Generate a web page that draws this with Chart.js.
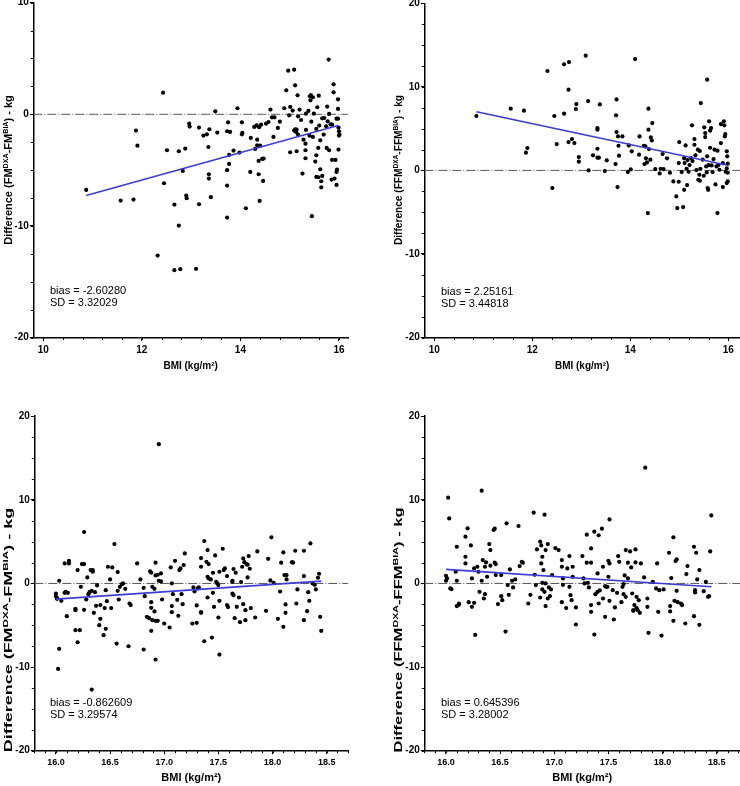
<!DOCTYPE html>
<html>
<head>
<meta charset="utf-8">
<script src="https://cdn.jsdelivr.net/npm/chart.js@4.4.0/dist/chart.umd.min.js"></script>
<style>
  body { margin: 0; background: #fff; }
  #wrap { position: relative; width: 740px; height: 786px; overflow: hidden; font-family: 'Liberation Sans', Arial, sans-serif; color: #000; }
  canvas { position: absolute; }
  .ytitle { position: absolute; white-space: nowrap; font-weight: bold; font-size: 11px; line-height: 13px; }
  .ytitle sup { font-size: 0.65em; vertical-align: 0.55em; line-height: 0; }
  .note { position: absolute; font-size: 11px; line-height: 12px; white-space: nowrap; }
</style>
</head>
<body>
<div id="wrap">
  <canvas id="c1" width="370" height="390" style="left:0;top:0"></canvas>
  <canvas id="c2" width="370" height="390" style="left:370px;top:0"></canvas>
  <canvas id="c3" width="370" height="396" style="left:0;top:390px"></canvas>
  <canvas id="c4" width="370" height="396" style="left:370px;top:390px"></canvas>

  <div class="ytitle" data-len="150" style="left:7.5px;top:170px">Difference (FM<sup>DXA</sup>-FM<sup>BIA</sup>) - kg</div>
  <div class="ytitle" data-len="150" style="left:398px;top:170px">Difference (FFM<sup>DXA</sup>-FFM<sup>BIA</sup>) - kg</div>
  <div class="ytitle" data-len="245" style="left:7.5px;top:630px">Difference (FM<sup>DXA</sup>-FM<sup>BIA</sup>) - kg</div>
  <div class="ytitle" data-len="245" style="left:398px;top:630px">Difference (FFM<sup>DXA</sup>-FFM<sup>BIA</sup>) - kg</div>

  <div class="note" style="left:50px;top:284px">bias = -2.60280<br>SD = 3.32029</div>
  <div class="note" style="left:441px;top:285px">bias = 2.25161<br>SD = 3.44818</div>
  <div class="note" style="left:50px;top:696px">bias = -0.862609<br>SD = 3.29574</div>
  <div class="note" style="left:441px;top:696px">bias = 0.645396<br>SD = 3.28002</div>
</div>
<script>
// BMI < 16, fat mass difference (BMI, kg)
const fmLow = [[10.87,-6.78],[11.57,-7.73],[11.83,-7.64],[11.88,-1.46],[11.91,-2.81],[12.43,1.94],[12.51,-3.22],[12.45,-6.18],[12.32,-12.66],[12.66,-8.09],[12.75,-3.31],[12.75,-9.97],[12.66,-13.97],[12.78,-13.88],[12.83,-5.07],[12.88,-3.07],[12.90,-7.28],[12.91,-7.52],[12.96,-0.84],[12.97,-1.10],[13.10,-13.85],[13.16,-1.19],[13.16,-8.06],[13.25,-1.91],[13.32,-1.79],[13.35,-2.93],[13.36,-5.37],[13.36,-5.76],[13.37,-1.34],[13.40,-7.43],[13.49,0.27],[13.53,-1.64],[13.73,-1.52],[13.75,-0.72],[13.79,-1.58],[13.73,-5.01],[13.73,-6.39],[13.73,-9.25],[13.77,-4.45],[13.77,-3.64],[13.86,-3.25],[13.94,0.54],[13.98,-3.43],[14.03,-1.79],[14.03,-0.72],[14.04,-1.67],[14.11,-8.42],[14.20,-5.16],[14.21,-2.12],[14.28,-1.13],[14.30,-3.10],[14.33,-0.99],[14.34,-2.27],[14.34,-2.78],[14.37,-5.37],[14.37,-4.18],[14.39,-7.76],[14.38,-1.16],[14.40,-2.81],[14.42,-0.93],[14.44,-4.00],[14.46,-5.97],[14.47,-3.97],[14.52,-0.84],[14.57,-0.69],[14.61,0.42],[14.64,-0.27],[14.69,-0.27],[14.67,-2.03],[14.76,-1.22],[14.80,-0.66],[14.89,0.54],[14.93,2.15],[14.97,3.91],[14.99,-0.09],[15.01,0.66],[15.01,-3.40],[15.06,0.33],[15.09,4.00],[15.11,2.60],[15.09,-1.46],[15.11,-1.34],[15.13,-1.58],[15.14,-1.37],[15.14,-3.31],[15.16,1.70],[15.17,-0.18],[15.17,-1.82],[15.20,0.42],[15.23,-0.51],[15.26,-5.31],[15.28,-2.27],[15.32,-2.63],[15.32,-3.22],[15.32,-3.94],[15.33,-1.40],[15.33,0.06],[15.38,0.30],[15.40,-1.91],[15.41,1.61],[15.42,1.25],[15.43,1.73],[15.44,-0.66],[15.45,-9.13],[15.47,1.52],[15.47,-2.03],[15.49,0.06],[15.52,-4.24],[15.54,-1.31],[15.54,-3.67],[15.54,-5.61],[15.56,0.63],[15.58,-5.64],[15.58,-3.01],[15.59,1.67],[15.60,-1.01],[15.62,-4.93],[15.62,-2.33],[15.64,-6.54],[15.64,-6.00],[15.66,-0.36],[15.66,-5.52],[15.69,-1.82],[15.70,-0.33],[15.74,-1.07],[15.75,-3.01],[15.76,0.69],[15.77,-0.63],[15.79,4.90],[15.80,0.03],[15.80,-3.22],[15.83,-0.90],[15.85,-5.85],[15.86,-0.93],[15.86,-4.09],[15.89,2.69],[15.89,1.97],[15.91,-5.76],[15.93,-4.09],[15.95,-0.39],[15.95,-5.16],[15.95,-6.33],[15.96,-4.96],[15.98,1.34],[15.98,0.48],[15.98,-0.39],[15.99,-3.16],[15.99,-1.19],[16.00,-1.52],[16.01,-1.82],[16.00,-1.91]];
// BMI < 16, fat-free mass difference
const ffmLow = [[10.86,6.51],[11.56,7.39],[11.83,7.15],[11.87,2.12],[11.90,2.67],[12.31,11.9],[12.45,6.51],[12.41,-2.12],[12.50,3.15],[12.65,12.7],[12.65,6.79],[12.75,12.97],[12.74,9.66],[12.74,3.39],[12.81,3.75],[12.86,3.27],[12.89,7.35],[12.90,7.94],[12.95,1.60],[12.95,1.04],[13.09,13.73],[13.14,8.30],[13.15,0.0],[13.24,1.80],[13.33,5.07],[13.33,4.87],[13.33,2.59],[13.33,1.52],[13.36,1.52],[13.38,7.90],[13.48,-0.08],[13.52,1.20],[13.70,0.76],[13.72,8.50],[13.71,6.59],[13.72,4.59],[13.74,-2.00],[13.75,4.07],[13.76,2.95],[13.77,1.76],[13.84,4.07],[14.10,13.33],[13.97,2.99],[13.95,-0.20],[14.01,0.12],[14.03,2.28],[14.19,4.07],[14.18,1.88],[14.28,2.95],[14.29,0.76],[14.31,2.87],[14.32,1.44],[14.34,0.96],[14.36,-5.11],[14.37,7.39],[14.37,4.87],[14.38,2.55],[14.41,1.28],[14.42,3.95],[14.44,3.59],[14.45,5.67],[14.51,0.16],[14.60,-0.36],[14.62,0.20],[14.66,1.96],[14.68,0.16],[14.75,1.44],[14.81,-0.28],[14.88,-1.32],[14.94,-3.11],[14.96,-4.51],[14.99,-1.36],[15.00,3.39],[14.99,0.88],[15.05,-0.20],[15.08,-4.39],[15.10,-2.32],[15.10,1.44],[15.11,0.88],[15.13,2.99],[15.15,0.20],[15.16,-1.76],[15.17,1.24],[15.19,-0.16],[15.21,0.64],[15.24,1.48],[15.26,5.39],[15.27,1.12],[15.31,3.75],[15.31,3.07],[15.33,1.80],[15.35,0.04],[15.38,2.48],[15.39,-1.12],[15.41,-0.52],[15.42,-1.24],[15.42,2.32],[15.43,0.20],[15.44,8.06],[15.48,1.28],[15.50,-0.64],[15.51,5.15],[15.53,3.99],[15.53,4.47],[15.55,0.48],[15.56,-0.24],[15.57,1.68],[15.57,10.86],[15.58,-2.12],[15.59,-2.32],[15.60,0.64],[15.61,5.87],[15.63,2.71],[15.63,4.75],[15.65,5.07],[15.66,0.60],[15.68,-0.20],[15.70,1.36],[15.72,2.48],[15.74,-1.68],[15.76,0.48],[15.78,-5.11],[15.78,2.36],[15.80,0.64],[15.82,0.08],[15.85,5.55],[15.85,3.27],[15.89,-2.00],[15.89,0.88],[15.91,5.87],[15.92,5.39],[15.93,4.07],[15.94,4.35],[15.95,-0.16],[15.97,-1.52],[15.97,2.28],[15.97,0.24],[15.98,1.68],[15.99,-1.32],[15.99,0.80],[15.99,-0.28]];
// BMI 16-18.5, fat mass difference
const fmMid = [[16.00,-1.20],[16.00,-1.52],[16.01,-1.76],[16.01,-1.84],[16.02,-10.22],[16.03,0.32],[16.03,-7.82],[16.05,-2.08],[16.08,-1.12],[16.08,2.40],[16.09,-1.00],[16.10,-3.91],[16.11,-1.12],[16.12,2.71],[16.12,2.40],[16.18,-3.03],[16.18,-3.19],[16.18,-5.59],[16.20,-7.03],[16.20,1.60],[16.22,-5.59],[16.23,-0.40],[16.24,2.32],[16.26,2.32],[16.26,6.15],[16.26,-3.15],[16.28,-1.92],[16.29,0.72],[16.30,-1.28],[16.31,-1.04],[16.32,1.60],[16.33,-0.88],[16.34,1.60],[16.34,1.40],[16.35,-3.51],[16.36,-1.04],[16.33,-12.69],[16.37,-2.67],[16.38,-0.24],[16.40,-4.99],[16.41,-4.23],[16.41,-2.59],[16.44,-6.19],[16.45,-2.95],[16.46,-0.80],[16.46,-5.43],[16.47,-2.12],[16.48,2.00],[16.50,0.48],[16.52,1.92],[16.51,-2.95],[16.54,4.71],[16.56,-7.19],[16.57,1.36],[16.57,-0.88],[16.58,-1.92],[16.59,-0.40],[16.61,-0.08],[16.62,0.0],[16.64,-0.64],[16.67,-7.51],[16.68,-2.40],[16.69,-2.59],[16.75,2.40],[16.78,0.48],[16.81,-7.90],[16.81,-0.52],[16.82,-1.52],[16.84,-3.99],[16.86,-4.15],[16.87,1.44],[16.88,-2.24],[16.88,-2.91],[16.88,-5.67],[16.88,1.28],[16.89,-4.39],[16.89,-0.40],[16.91,-0.64],[16.91,-3.35],[16.92,-9.10],[16.92,2.48],[16.92,0.96],[16.92,-4.47],[16.94,-4.47],[16.94,1.04],[16.95,16.65],[16.95,0.32],[16.97,1.20],[16.97,0.24],[16.98,-1.92],[17.00,-4.79],[17.05,-5.27],[17.06,1.92],[17.07,-2.71],[17.07,-3.43],[17.07,0.0],[17.08,-1.28],[17.10,2.71],[17.12,-1.96],[17.13,-3.87],[17.14,1.60],[17.15,1.80],[17.16,-1.28],[17.17,-2.48],[17.18,2.20],[17.19,3.59],[17.26,-4.79],[17.27,-0.48],[17.28,-0.96],[17.30,-2.63],[17.30,-4.71],[17.31,-0.60],[17.32,-0.48],[17.34,3.03],[17.34,2.00],[17.34,-3.51],[17.34,-3.43],[17.37,5.07],[17.37,-6.91],[17.39,2.59],[17.40,0.80],[17.40,-1.68],[17.40,3.99],[17.41,2.32],[17.41,0.60],[17.43,0.48],[17.44,-6.47],[17.45,1.28],[17.45,-1.12],[17.46,-2.79],[17.47,3.35],[17.48,0.20],[17.49,0.0],[17.50,-0.20],[17.50,-4.07],[17.51,-8.50],[17.51,1.40],[17.51,-2.08],[17.54,4.15],[17.55,1.60],[17.56,1.80],[17.58,0.88],[17.58,-2.59],[17.59,-2.83],[17.63,0.32],[17.63,0.20],[17.63,-1.20],[17.64,1.72],[17.64,-1.40],[17.65,-4.15],[17.66,1.28],[17.67,-2.79],[17.69,-1.68],[17.70,-4.63],[17.71,0.16],[17.72,2.00],[17.73,2.99],[17.73,-2.48],[17.74,2.55],[17.75,-4.39],[17.75,-3.19],[17.76,2.32],[17.77,2.24],[17.77,0.72],[17.78,3.27],[17.79,1.76],[17.80,-2.95],[17.84,-4.07],[17.86,3.83],[17.94,-3.27],[17.96,2.95],[17.98,0.36],[17.99,5.51],[18.01,0.08],[18.05,-4.23],[18.07,-0.96],[18.08,2.48],[18.10,-5.19],[18.10,3.71],[18.11,1.00],[18.12,-2.51],[18.12,-3.51],[18.13,1.00],[18.13,0.48],[18.18,2.55],[18.19,2.48],[18.21,3.91],[18.22,-2.40],[18.23,-0.72],[18.29,3.91],[18.29,0.88],[18.29,-4.39],[18.32,-3.31],[18.33,-1.04],[18.34,-2.08],[18.35,4.79],[18.37,0.0],[18.39,-0.16],[18.40,-0.72],[18.42,0.68],[18.43,1.16],[18.44,-3.99],[18.45,-5.67]];
// BMI 16-18.5, fat-free mass difference
const ffmMid = [[16.00,0.92],[16.00,0.32],[16.01,0.60],[16.02,10.26],[16.03,7.78],[16.04,-0.60],[16.05,-0.68],[16.09,1.40],[16.10,4.39],[16.10,0.32],[16.10,-2.71],[16.12,-2.55],[16.12,-2.40],[16.18,2.40],[16.18,3.19],[16.18,5.59],[16.20,6.59],[16.21,-2.24],[16.23,4.55],[16.24,0.60],[16.24,-2.79],[16.26,-2.32],[16.27,-6.15],[16.26,1.80],[16.29,2.00],[16.30,1.40],[16.31,-1.00],[16.33,11.10],[16.33,0.32],[16.34,2.79],[16.35,-1.80],[16.36,-1.28],[16.36,2.00],[16.37,2.51],[16.38,0.80],[16.40,4.71],[16.41,3.99],[16.41,2.12],[16.44,6.39],[16.45,6.55],[16.45,2.48],[16.46,2.32],[16.46,1.00],[16.48,-2.47],[16.51,1.00],[16.51,-1.52],[16.52,-2.00],[16.55,-5.75],[16.56,7.19],[16.57,-0.20],[16.58,-1.36],[16.59,1.68],[16.61,0.32],[16.62,-0.48],[16.64,0.48],[16.67,6.87],[16.68,2.08],[16.70,2.59],[16.71,2.48],[16.76,-2.40],[16.78,-1.36],[16.81,8.46],[16.82,1.04],[16.83,-0.20],[16.84,4.07],[16.87,-1.68],[16.87,4.99],[16.88,2.40],[16.88,4.55],[16.89,3.19],[16.89,0.08],[16.89,-0.72],[16.90,1.60],[16.91,-1.00],[16.91,8.22],[16.92,3.99],[16.92,0.0],[16.92,-2.71],[16.94,4.71],[16.94,-1.80],[16.95,-0.48],[16.96,-1.52],[16.97,-0.72],[16.98,1.00],[17.01,4.23],[17.04,3.99],[17.07,2.79],[17.07,-2.24],[17.07,2.00],[17.08,-0.16],[17.08,0.60],[17.11,-2.95],[17.12,1.80],[17.14,3.27],[17.14,-0.40],[17.15,-1.40],[17.16,-2.00],[17.17,0.80],[17.17,2.00],[17.20,-4.91],[17.20,-2.87],[17.26,3.27],[17.27,0.60],[17.28,0.0],[17.30,5.83],[17.30,2.48],[17.31,0.08],[17.32,-0.48],[17.34,4.19],[17.34,2.48],[17.34,-2.59],[17.34,-3.39],[17.37,-6.11],[17.37,6.19],[17.38,-1.28],[17.40,1.20],[17.40,-1.00],[17.41,-2.40],[17.41,5.75],[17.42,-0.84],[17.44,6.55],[17.45,-1.80],[17.45,2.00],[17.47,-0.32],[17.47,-3.99],[17.48,-0.40],[17.49,-0.40],[17.50,0.80],[17.50,2.71],[17.51,-2.08],[17.51,7.66],[17.51,2.40],[17.54,-0.80],[17.55,-4.31],[17.56,-2.87],[17.58,-1.12],[17.59,3.27],[17.60,2.59],[17.62,-2.24],[17.63,-0.40],[17.64,-0.08],[17.64,-1.28],[17.65,0.96],[17.66,3.99],[17.66,-1.60],[17.68,2.48],[17.68,0.60],[17.70,3.83],[17.71,1.92],[17.72,-1.20],[17.73,-3.19],[17.73,-3.27],[17.74,-2.59],[17.75,4.07],[17.75,2.51],[17.76,-1.60],[17.76,-2.95],[17.77,-3.19],[17.78,-2.00],[17.79,-3.51],[17.80,2.40],[17.83,0.72],[17.84,13.85],[17.86,-2.79],[17.86,-1.80],[17.87,-5.91],[17.91,0.20],[17.94,-0.60],[17.95,2.40],[17.96,-3.39],[17.97,-0.80],[17.99,-6.23],[18.01,-0.72],[18.06,3.67],[18.07,-2.71],[18.07,-3.35],[18.08,0.64],[18.10,5.51],[18.10,-4.47],[18.11,-2.08],[18.12,2.67],[18.13,2.87],[18.13,-0.88],[18.14,-2.24],[18.17,-2.40],[18.18,-2.59],[18.21,-4.79],[18.22,1.12],[18.23,2.08],[18.29,4.39],[18.29,-3.91],[18.30,-0.80],[18.30,-1.08],[18.31,3.67],[18.32,0.48],[18.34,1.60],[18.34,-4.95],[18.38,-0.92],[18.40,0.20],[18.42,-1.60],[18.43,-1.52],[18.44,3.83],[18.45,8.14]];

// regression lines (end points)
const fitFmLow = [[10.87,-7.28],[15.98,-1.01]];
const fitFfmLow = [[10.86,7.03],[15.96,0.64]];
const fitFmMid = [[16.0,-1.88],[18.45,0.28]];
const fitFfmMid = [[16.0,1.68],[18.45,-0.40]];

// tick labels
const xTicksLow = [10, 12, 14, 16];
const xTicksMid = [16.0, 16.5, 17.0, 17.5, 18.0, 18.5];
const yTicksFm = [-20, -10, 0, 10];
const yTicks = [-20, -10, 0, 10, 20];

Chart.defaults.font.family = "'Liberation Sans', Arial, sans-serif";
Chart.defaults.color = '#000';

// small unlabelled ticks between the labelled ones
const minorTicks = {
  id: 'minorTicks',
  afterDraw(chart, args, o) {
    const ctx = chart.ctx, a = chart.chartArea;
    const xs = chart.scales.x, ys = chart.scales.y;
    ctx.save();
    ctx.strokeStyle = '#000';
    ctx.lineWidth = 1;
    ctx.beginPath();
    for (let i = 0; ; i++) {
      const v = o.xFrom + i * o.xStep;
      if (v > xs.max + 1e-9) break;
      if (v < xs.min) continue;
      const px = Math.round(xs.getPixelForValue(v)) + 0.5;
      ctx.moveTo(px, a.bottom);
      ctx.lineTo(px, a.bottom + 2.5);
    }
    for (let i = 0; ; i++) {
      const v = ys.min + i * o.yStep;
      if (v > ys.max + 1e-9) break;
      const py = Math.round(ys.getPixelForValue(v)) + 0.5;
      ctx.moveTo(a.left, py);
      ctx.lineTo(a.left - 2.5, py);
    }
    ctx.stroke();
    ctx.restore();
  }
};
Chart.register(minorTicks);

function panel(id, c) {
  const pts = arr => arr.map(p => ({ x: p[0], y: p[1] }));
  new Chart(document.getElementById(id), {
    type: 'scatter',
    data: {
      datasets: [
        { data: [{ x: c.xMin, y: 0 }, { x: c.xMax, y: 0 }], showLine: true, borderColor: '#555', borderWidth: 1, borderDash: [9, 2, 1, 2], pointRadius: 0, order: 3 },
        { data: pts(c.points), pointRadius: 2.1, pointStyle: 'circle', backgroundColor: '#000', borderWidth: 0, order: 2 },
        { data: pts(c.fit), showLine: true, borderColor: '#3c3cd8', borderWidth: 1.6, pointRadius: 0, order: 1 }
      ]
    },
    options: {
      responsive: false,
      animation: false,
      layout: { autoPadding: false, padding: c.pad },
      plugins: {
        legend: { display: false },
        tooltip: { enabled: false },
        minorTicks: { xFrom: c.xFrom, xStep: c.xStep, yStep: 2.5 }
      },
      scales: {
        x: {
          type: 'linear', min: c.xMin, max: c.xMax,
          afterBuildTicks: s => { s.ticks = c.xTicks.map(v => ({ value: v })); },
          afterFit: s => { s.height = c.xH; s.paddingLeft = 0; s.paddingRight = 0; },
          grid: { drawOnChartArea: false, drawTicks: true, tickLength: 3.5, color: '#000', lineWidth: 1 },
          border: { color: '#000', width: 1.5 },
          ticks: { color: '#000', font: { size: c.xFont, weight: 'bold' }, padding: c.xPad, maxRotation: 0, autoSkip: false,
                   callback: v => c.xDec ? Number(v).toFixed(1) : String(v) },
          title: { display: true, text: 'BMI (kg/m²)', color: '#000', font: { size: c.titleFont, weight: 'bold' }, padding: { top: 0, bottom: c.titlePad } }
        },
        y: {
          type: 'linear', min: c.yTicks[0], max: c.yTicks[c.yTicks.length - 1],
          afterBuildTicks: s => { s.ticks = c.yTicks.map(v => ({ value: v })); },
          afterFit: s => { s.width = c.yW; s.paddingTop = 0; s.paddingBottom = 0; },
          grid: { drawOnChartArea: false, drawTicks: true, tickLength: 3.5, color: '#000', lineWidth: 1 },
          border: { color: '#000', width: 1.5 },
          ticks: { color: '#000', font: { size: 10, weight: 'bold' }, padding: 1, autoSkip: false, callback: v => String(v) }
        }
      }
    }
  });
}

panel('c1', { points: fmLow, fit: fitFmLow, xTicks: xTicksLow, yTicks: yTicksFm, xMin: 9.797, xMax: 16.183, xFrom: 10, xStep: 0.4,
  pad: { top: 2.7, right: 22, bottom: 0, left: 0 }, yW: 33.3, xH: 52.5, xFont: 10, xPad: 3, xDec: false, titleFont: 10, titlePad: 18 });
panel('c2', { points: ffmLow, fit: fitFfmLow, xTicks: xTicksLow, yTicks: yTicks, xMin: 9.796, xMax: 16.24, xFrom: 10, xStep: 0.4,
  pad: { top: 3.3, right: 0, bottom: 0, left: 0 }, yW: 54.3, xH: 52.5, xFont: 10, xPad: 3, xDec: false, titleFont: 10, titlePad: 18 });
panel('c3', { points: fmMid, fit: fitFmMid, xTicks: xTicksMid, yTicks: yTicks, xMin: 15.8, xMax: 18.7, xFrom: 15.8, xStep: 0.1,
  pad: { top: 26.2, right: 21.7, bottom: 0, left: 0 }, yW: 34.3, xH: 35.3, xFont: 9, xPad: 3, xDec: true, titleFont: 11, titlePad: 1 });
panel('c4', { points: ffmMid, fit: fitFfmMid, xTicks: xTicksMid, yTicks: yTicks, xMin: 15.8, xMax: 18.715, xFrom: 15.8, xStep: 0.1,
  pad: { top: 26.2, right: 0, bottom: 0, left: 0 }, yW: 54.3, xH: 35.3, xFont: 9, xPad: 3, xDec: true, titleFont: 11, titlePad: 1 });

// rotated y titles, stretched to the length they have in the figure
document.querySelectorAll('.ytitle').forEach(el => {
  const s = Number(el.dataset.len) / el.offsetWidth;
  el.style.transform = 'translate(-50%, -50%) rotate(-90deg) scale(' + s + ', 1)';
});
</script>
</body>
</html>
